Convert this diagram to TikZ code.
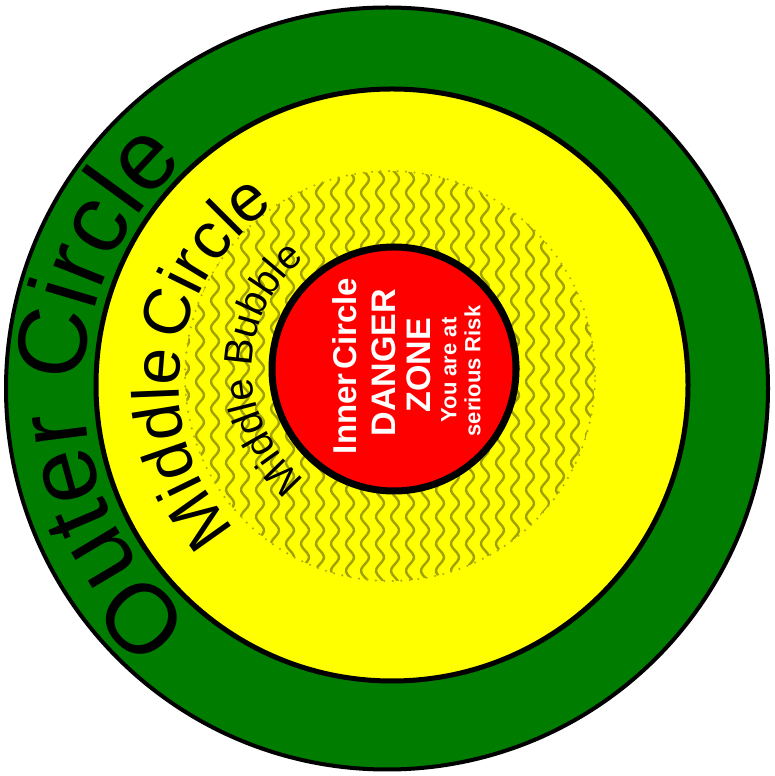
\documentclass[tikz,border=0pt]{standalone}
\usepackage{fontspec}
\setmainfont{Liberation Sans}
\usetikzlibrary{decorations.text}
\definecolor{ringgreen}{RGB}{0,124,0}
\definecolor{ringyellow}{RGB}{255,255,0}
\definecolor{ringred}{RGB}{255,0,0}
\definecolor{waveolive}{RGB}{160,160,0}
\definecolor{dotolive}{RGB}{175,175,20}
\begin{document}
\begin{tikzpicture}[x=1pt,y=1pt,
  wave/.style={draw=waveolive, line width=2.4pt},
  innertext/.style={text=white, rotate=90, inner sep=0pt},
  bigsize/.style={font=\bfseries\fontsize{34}{34}\selectfont},
  smallsize/.style={font=\bfseries\fontsize{22}{22}\selectfont},
]
\useasboundingbox[fill=white] (0,0) rectangle (775,776);
\coordinate (oc) at (387,387.5);
\coordinate (yc) at (392,391);
\coordinate (dc) at (390,400);
\coordinate (rc) at (394,407);
\filldraw[fill=ringgreen, draw=black, line width=4pt] (oc) circle[radius=381];
\filldraw[fill=ringyellow, draw=black, line width=5pt] (yc) circle[radius=296];
\begin{scope}
  \clip (dc) circle[radius=205];
  \foreach \i in {0,...,28} {
    \draw[wave] plot[smooth, variable=\t, domain=0:430, samples=160]
      ({185+\i*15+4*sin(\t*13.3333)}, {185+\t});
  }
\end{scope}
\draw[dotolive, line width=2.4pt, dash pattern=on 0pt off 8.5pt, line cap=round] (dc) circle[radius=205];
\filldraw[fill=ringred, draw=black, line width=7pt] (rc) circle[radius=122];
\path[decorate, decoration={text along path, text={|\fontsize{98}{98}\selectfont|Outer Circle}, text align=center}]
  (oc) ++(240:303) arc[start angle=240, end angle=122, radius=303];
\path[decorate, decoration={text along path, text={|\fontsize{66}{66}\selectfont|Middle{\kern7pt}Circle}, text align=center}]
  (yc) ++(233:213) arc[start angle=233, end angle=113, radius=213];
\path[decorate, decoration={text along path, text={|\fontsize{40}{40}\selectfont|Middle Bubble}, text align=center}]
  (rc) ++(240:142) arc[start angle=240, end angle=120, radius=142];
\node[innertext, font=\bfseries\fontsize{33}{33}\selectfont] (inner) at (345,410) {Inner\hspace{0.12em}Circle};
\node[innertext, bigsize] (danger) at (383.5,413.5) {DANGER};
\node[innertext, bigsize] (zone) at (418.5,410.5) {ZONE};
\node[innertext, smallsize] (youare) at (449,406) {You are at};
\node[innertext, smallsize] (serious) at (472.5,405) {serious Risk};
\end{tikzpicture}
\end{document}
